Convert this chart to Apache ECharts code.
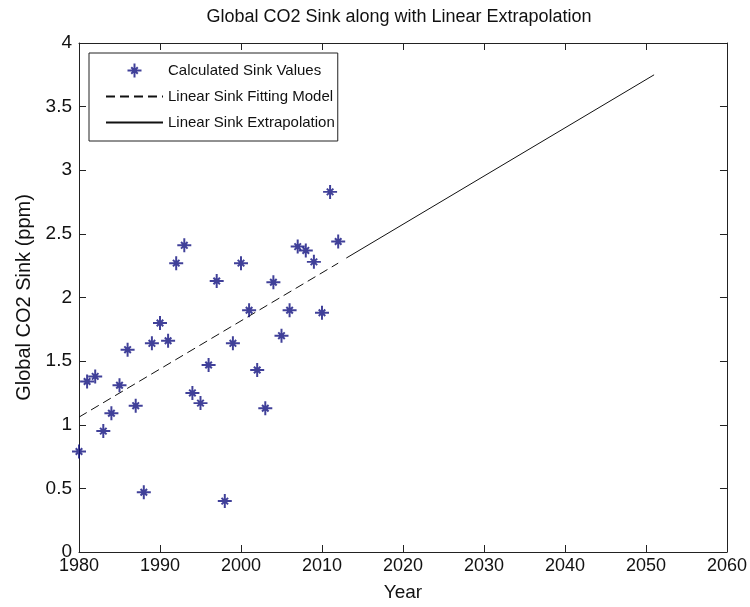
<!DOCTYPE html>
<html>
<head>
<meta charset="utf-8">
<script src="https://cdn.jsdelivr.net/npm/echarts@6/dist/echarts.min.js"></script>
<style>
  html, body { margin: 0; padding: 0; background: #fff; }
  #chart { width: 750px; height: 607px; }
</style>
</head>
<body>
<div id="chart"></div>
<script>
// calculated sink values
var years = [1980, 1981, 1982, 1983, 1984, 1985, 1986, 1987, 1988, 1989, 1990,
             1991, 1992, 1993, 1994, 1995, 1996, 1997, 1998, 1999, 2000,
             2001, 2002, 2003, 2004, 2005, 2006, 2007, 2008, 2009, 2010,
             2011, 2012];
var sinkValues = [0.79, 1.34, 1.38, 0.95, 1.09, 1.31, 1.59, 1.15, 0.47, 1.64, 1.80,
                  1.66, 2.27, 2.41, 1.25, 1.17, 1.47, 2.13, 0.40, 1.64, 2.27,
                  1.90, 1.43, 1.13, 2.12, 1.70, 1.90, 2.40, 2.37, 2.28, 1.88,
                  2.83, 2.44];

// fitted line (dashed) and extrapolation (solid), end points
var fitYears = [1980, 2012];
var fitValues = [1.06, 2.27];
var extYears = [2013, 2051];
var extValues = [2.31, 3.75];

var xTicks = [1980, 1990, 2000, 2010, 2020, 2030, 2040, 2050, 2060];
var yTicks = [0, 0.5, 1, 1.5, 2, 2.5, 3, 3.5, 4];

function pairs(xs, ys) {
    var res = [];
    for (var i = 0; i < xs.length; i++) {
        res.push([xs[i], ys[i]]);
    }
    return res;
}

// matlab style '*' marker (plus, cross and a dot in the middle)
var star = 'path://M-0.85,-6L0.85,-6L0.85,6L-0.85,6Z' +
    'M-6,-0.85L6,-0.85L6,0.85L-6,0.85Z' +
    'M-3.4,-2.2L-2.2,-3.4L3.4,2.2L2.2,3.4Z' +
    'M-2.2,3.4L-3.4,2.2L2.2,-3.4L3.4,-2.2Z' +
    'M-1.6,-1.6L1.6,-1.6L1.6,1.6L-1.6,1.6Z';

var font = 'Liberation Sans';
var axisColor = '#222';
var textColor = '#111';
var hideSymbol = { color: 'rgba(0,0,0,0)', opacity: 0, borderWidth: 0 };

var axisBase = {
    type: 'value',
    splitLine: { show: false },
    axisLine: { show: true, onZero: false, lineStyle: { color: axisColor, width: 1 } },
    axisTick: { show: true, inside: true, length: 7, lineStyle: { color: axisColor } }
};

var option = {
    backgroundColor: '#fff',
    animation: false,
    title: {
        text: 'Global CO2 Sink along with Linear Extrapolation',
        left: 394,
        textAlign: 'center',
        top: 3,
        textStyle: { color: textColor, fontFamily: font, fontSize: 18, fontWeight: 'normal' }
    },
    legend: {
        orient: 'vertical',
        left: 89,
        top: 53,
        padding: [10, 3, 11, 16],
        itemWidth: 57,
        itemHeight: 14,
        itemGap: 11,
        backgroundColor: '#fff',
        borderColor: axisColor,
        borderWidth: 1,
        borderRadius: 0,
        textStyle: { color: textColor, fontFamily: font, fontSize: 15 },
        data: [
            { name: 'Calculated Sink Values' },
            { name: 'Linear Sink Fitting Model', itemStyle: hideSymbol },
            { name: 'Linear Sink Extrapolation', itemStyle: hideSymbol }
        ]
    },
    grid: { left: 79, right: 21, top: 43, bottom: 51 },
    xAxis: [
        Object.assign({}, axisBase, {
            position: 'bottom',
            min: xTicks[0], max: xTicks[xTicks.length - 1], interval: 10,
            name: 'Year', nameLocation: 'middle', nameGap: 31,
            nameTextStyle: { color: textColor, fontFamily: font, fontSize: 19 },
            axisLabel: {
                color: textColor, fontFamily: font, fontSize: 18, margin: 5,
                formatter: function (v) { return String(v); }
            }
        }),
        Object.assign({}, axisBase, {
            position: 'top',
            min: xTicks[0], max: xTicks[xTicks.length - 1], interval: 10,
            axisLabel: { show: false }
        })
    ],
    yAxis: [
        Object.assign({}, axisBase, {
            position: 'left',
            min: yTicks[0], max: yTicks[yTicks.length - 1], interval: 0.5,
            name: 'Global CO2 Sink (ppm)', nameLocation: 'middle', nameGap: 44,
            nameTextStyle: { color: textColor, fontFamily: font, fontSize: 20 },
            axisLabel: { color: textColor, fontFamily: font, fontSize: 19, margin: 7 }
        }),
        Object.assign({}, axisBase, {
            position: 'right',
            min: yTicks[0], max: yTicks[yTicks.length - 1], interval: 0.5,
            axisLabel: { show: false }
        })
    ],
    series: [
        {
            name: 'Calculated Sink Values',
            type: 'scatter',
            data: pairs(years, sinkValues),
            symbol: star,
            symbolSize: 14,
            symbolKeepAspect: true,
            itemStyle: { color: '#10107f' },
            z: 3
        },
        {
            name: 'Linear Sink Fitting Model',
            type: 'line',
            data: pairs(fitYears, fitValues),
            showSymbol: false,
            symbol: 'none',
            lineStyle: { color: textColor, width: 1, type: [9, 5] },
            itemStyle: { color: textColor }
        },
        {
            name: 'Linear Sink Extrapolation',
            type: 'line',
            data: pairs(extYears, extValues),
            showSymbol: false,
            symbol: 'none',
            lineStyle: { color: textColor, width: 1, type: 'solid' },
            itemStyle: { color: textColor }
        }
    ]
};

var chart = echarts.init(document.getElementById('chart'));
chart.setOption(option);
</script>
</body>
</html>
